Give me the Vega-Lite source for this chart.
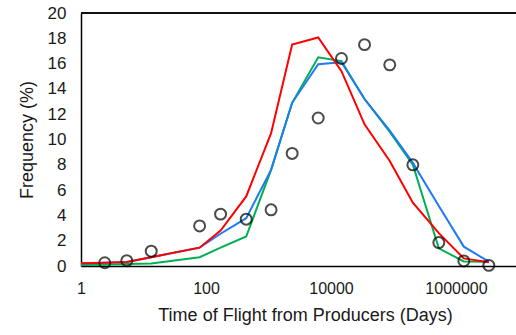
{
  "$schema": "https://vega.github.io/schema/vega-lite/v6.json",
  "width": 435,
  "height": 253,
  "autosize": {"type": "none"},
  "padding": {"left": 81, "top": 13, "right": 0, "bottom": 69},
  "background": "white",
  "config": {
    "view": {"stroke": null},
    "font": "Liberation Sans",
    "axis": {
      "labelFont": "Liberation Sans",
      "titleFont": "Liberation Sans",
      "labelFontSize": 16,
      "titleFontSize": 18,
      "titleFontWeight": "normal",
      "labelColor": "#1a1a1a",
      "titleColor": "#1a1a1a",
      "domainColor": "#000000",
      "domainWidth": 1.5,
      "ticks": false,
      "grid": false
    }
  },
  "datasets": {
    "models": [
      {"days": 1, "series": "Model A", "pct": 0.21},
      {"days": 2.4, "series": "Model A", "pct": 0.25},
      {"days": 5.4, "series": "Model A", "pct": 0.32},
      {"days": 13.3, "series": "Model A", "pct": 0.7},
      {"days": 79, "series": "Model A", "pct": 1.45},
      {"days": 171, "series": "Model A", "pct": 2.8},
      {"days": 440, "series": "Model A", "pct": 5.5},
      {"days": 1100, "series": "Model A", "pct": 10.5},
      {"days": 2390, "series": "Model A", "pct": 17.5},
      {"days": 6240, "series": "Model A", "pct": 18.07},
      {"days": 14700, "series": "Model A", "pct": 15.4},
      {"days": 34400, "series": "Model A", "pct": 11.2},
      {"days": 87100, "series": "Model A", "pct": 8.3},
      {"days": 204000, "series": "Model A", "pct": 5.0},
      {"days": 531000, "series": "Model A", "pct": 2.6},
      {"days": 1334000, "series": "Model A", "pct": 0.6},
      {"days": 3350000, "series": "Model A", "pct": 0.3},

      {"days": 1, "series": "Model B", "pct": 0.2},
      {"days": 2.4, "series": "Model B", "pct": 0.25},
      {"days": 5.4, "series": "Model B", "pct": 0.32},
      {"days": 13.3, "series": "Model B", "pct": 0.7},
      {"days": 79, "series": "Model B", "pct": 1.45},
      {"days": 171, "series": "Model B", "pct": 2.55},
      {"days": 440, "series": "Model B", "pct": 3.78},
      {"days": 1100, "series": "Model B", "pct": 7.6},
      {"days": 2390, "series": "Model B", "pct": 12.9},
      {"days": 6240, "series": "Model B", "pct": 15.95},
      {"days": 14700, "series": "Model B", "pct": 16.1},
      {"days": 34400, "series": "Model B", "pct": 13.2},
      {"days": 87100, "series": "Model B", "pct": 10.7},
      {"days": 204000, "series": "Model B", "pct": 8.15},
      {"days": 531000, "series": "Model B", "pct": 4.75},
      {"days": 1334000, "series": "Model B", "pct": 1.53},
      {"days": 3350000, "series": "Model B", "pct": 0.34},

      {"days": 1, "series": "Model C", "pct": 0.08},
      {"days": 2.4, "series": "Model C", "pct": 0.1},
      {"days": 5.4, "series": "Model C", "pct": 0.15},
      {"days": 13.3, "series": "Model C", "pct": 0.2},
      {"days": 79, "series": "Model C", "pct": 0.69},
      {"days": 171, "series": "Model C", "pct": 1.45},
      {"days": 440, "series": "Model C", "pct": 2.33},
      {"days": 1100, "series": "Model C", "pct": 7.6},
      {"days": 2390, "series": "Model C", "pct": 12.9},
      {"days": 6240, "series": "Model C", "pct": 16.5},
      {"days": 14700, "series": "Model C", "pct": 16.2},
      {"days": 34400, "series": "Model C", "pct": 13.2},
      {"days": 87100, "series": "Model C", "pct": 10.6},
      {"days": 204000, "series": "Model C", "pct": 8.0},
      {"days": 531000, "series": "Model C", "pct": 1.4},
      {"days": 1334000, "series": "Model C", "pct": 0.36},
      {"days": 3350000, "series": "Model C", "pct": 0.34}
    ],
    "observed": [
      {"days": 2.4, "pct": 0.26},
      {"days": 5.4, "pct": 0.42},
      {"days": 13.3, "pct": 1.17},
      {"days": 79, "pct": 3.17},
      {"days": 171, "pct": 4.1},
      {"days": 440, "pct": 3.7},
      {"days": 1100, "pct": 4.44},
      {"days": 2390, "pct": 8.9},
      {"days": 6240, "pct": 11.7},
      {"days": 14700, "pct": 16.4},
      {"days": 34400, "pct": 17.5},
      {"days": 87100, "pct": 15.9},
      {"days": 204000, "pct": 8.0},
      {"days": 531000, "pct": 1.85},
      {"days": 1334000, "pct": 0.4},
      {"days": 3350000, "pct": 0.05}
    ]
  },
  "encoding": {
    "x": {
      "field": "days",
      "type": "quantitative",
      "scale": {"type": "log", "domain": [1, 9120000], "nice": false},
      "axis": {
        "values": [1, 100, 10000, 1000000],
        "format": "d",
        "labelPadding": 14,
        "title": "Time of Flight from Producers (Days)",
        "titlePadding": 10,
        "titleX": 224,
        "titleAlign": "center",
        "labelFlush": false,
        "labelOverlap": false
      }
    },
    "y": {
      "field": "pct",
      "type": "quantitative",
      "scale": {"domain": [0, 20], "nice": false},
      "axis": {
        "values": [0, 2, 4, 6, 8, 10, 12, 14, 16, 18, 20],
        "labelFontSize": 17,
        "labelPadding": 15,
        "title": "Frequency (%)",
        "titlePadding": 11
      }
    }
  },
  "layer": [
    {
      "data": {"values": [{"top": 20}]},
      "mark": {"type": "rule", "color": "#111111", "strokeWidth": 2},
      "encoding": {
        "x": null,
        "y": {"field": "top", "type": "quantitative"}
      }
    },
    {
      "data": {"name": "models"},
      "transform": [{"filter": "datum.series === 'Model C'"}],
      "mark": {"type": "line", "color": "#00B050", "strokeWidth": 2}
    },
    {
      "data": {"name": "models"},
      "transform": [{"filter": "datum.series === 'Model B'"}],
      "mark": {"type": "line", "color": "#1E7BF2", "strokeWidth": 2}
    },
    {
      "data": {"name": "models"},
      "transform": [{"filter": "datum.series === 'Model A'"}],
      "mark": {"type": "line", "color": "#FF0000", "strokeWidth": 2}
    },
    {
      "data": {"name": "observed"},
      "mark": {"type": "point", "shape": "circle", "filled": false, "stroke": "#000000", "strokeWidth": 2, "size": 120}
    }
  ]
}
